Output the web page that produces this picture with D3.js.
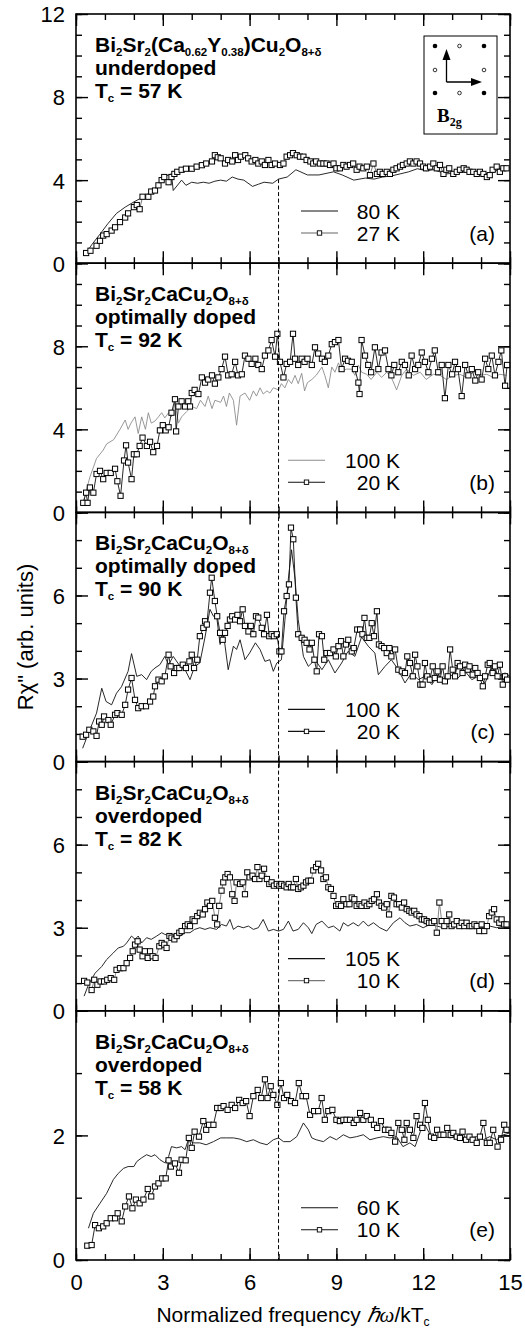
<!DOCTYPE html>
<html><head><meta charset="utf-8">
<script src="https://cdn.jsdelivr.net/npm/d3@7"></script>
<style>body{margin:0;background:#fff}svg{display:block}</style>
</head><body><svg id="chart" width="525" height="1330"></svg>
<script>
// ---------- data ----------
const xTicks = [0, 3, 6, 9, 12, 15];
const panelLetters = ['(a)', '(b)', '(c)', '(d)', '(e)'];
const yMaxes = [12, 12, 9, 9, 4];
const yMajorSteps = [4, 4, 3, 3, 2];
const hiLabels = ['80 K', '100 K', '100 K', '105 K', '60 K'];
const loLabels = ['27 K', '20 K', '20 K', '10 K', '10 K'];
const dopings = ['underdoped', 'optimally doped', 'optimally doped', 'overdoped', 'overdoped'];
const tcValues = ['57 K', '92 K', '90 K', '82 K', '58 K'];
const compoundY = [['Bi', ''], ['2', 's'], ['Sr', ''], ['2', 's'], ['(Ca', ''], ['0.62', 's'], ['Y', ''], ['0.38', 's'], [')Cu', ''], ['2', 's'], ['O', ''], ['8+δ', 's']];
const compoundBi = [['Bi', ''], ['2', 's'], ['Sr', ''], ['2', 's'], ['CaCu', ''], ['2', 's'], ['O', ''], ['8+δ', 's']];

const hiA = [[0.31,0.4],[0.55,0.9],[0.83,1.4],[1.1,1.9],[1.4,2.4],[1.7,2.7],[2.0,2.95],[2.2,3.1],[2.5,3.35],[2.8,3.7],[3.0,4.15],[3.3,4.3],[3.36,3.5],[3.65,4.0],[3.8,3.75],[4.0,3.9],[4.2,3.85],[4.4,3.9],[4.6,3.85],[4.8,3.95],[5.0,4.0],[5.2,3.95],[5.4,4.15],[5.6,4.05],[5.8,4.0],[6.1,3.7],[6.3,3.8],[6.5,3.9],[6.8,3.85],[7.0,4.05],[7.3,4.15],[7.6,4.5],[8.0,4.25],[8.4,4.25],[8.9,4.4],[9.2,4.25],[9.6,4.0],[10.0,4.1],[10.3,4.05],[10.6,4.15],[10.9,4.2],[11.2,4.3],[11.5,4.4],[11.8,4.55],[12.1,4.45],[12.35,4.5],[12.8,4.3],[13.2,4.35],[13.5,4.4],[14.1,4.3],[14.4,4.35],[14.65,4.55],[15,4.6]];
const loA = [[0.35,0.49],[0.5,0.6],[0.71,0.84],[0.83,1.08],[0.94,1.33],[1.06,1.4],[1.23,1.57],[1.35,1.73],[1.52,1.98],[1.7,2.2],[1.8,2.4],[2.0,2.7],[2.1,2.8],[2.2,2.6],[2.3,3.2],[2.5,3.2],[2.6,3.45],[2.73,3.5],[2.85,3.75],[2.96,4.0],[3.05,4.15],[3.2,3.9],[3.3,4.15],[3.4,4.3],[3.5,4.4],[3.65,4.5],[3.8,4.55],[4.0,4.55],[4.17,4.65],[4.35,4.72],[4.5,4.8],[4.7,4.9],[4.8,5.2],[4.9,5.1],[5.0,5.05],[5.15,4.8],[5.26,4.97],[5.4,4.9],[5.5,5.2],[5.6,4.97],[5.7,5.13],[5.85,5.2],[5.95,5.05],[6.07,4.9],[6.2,4.97],[6.3,4.8],[6.42,4.9],[6.53,4.73],[6.65,4.97],[6.76,4.73],[6.88,4.8],[7.05,4.73],[7.17,4.8],[7.28,5.13],[7.4,5.2],[7.5,5.3],[7.63,5.2],[7.74,5.13],[7.86,5.13],[7.97,4.97],[8.1,4.9],[8.2,4.8],[8.3,4.9],[8.43,4.8],[8.55,4.8],[8.66,4.8],[8.78,4.73],[8.9,4.8],[9.0,4.57],[9.12,4.57],[9.24,4.73],[9.35,4.65],[9.47,4.73],[9.58,4.8],[9.7,4.5],[9.8,4.65],[9.93,4.57],[10.05,4.65],[10.16,4.24],[10.28,4.8],[10.4,4.3],[10.5,4.4],[10.6,4.3],[10.74,4.4],[10.85,4.3],[10.97,4.5],[11.08,4.57],[11.2,4.65],[11.3,4.73],[11.43,4.8],[11.54,4.9],[11.66,4.8],[11.77,4.9],[11.89,4.8],[12.0,4.65],[12.1,4.57],[12.24,4.65],[12.35,4.8],[12.47,4.57],[12.58,4.73],[12.7,4.3],[12.8,4.5],[12.9,4.57],[13.04,4.3],[13.16,4.4],[13.27,4.5],[13.4,4.57],[13.5,4.5],[13.6,4.4],[13.73,4.4],[13.85,4.3],[13.96,4.4],[14.08,4.3],[14.2,4.15],[14.3,4.24],[14.4,4.5],[14.54,4.65],[14.65,4.4],[14.77,4.57],[14.88,4.57]];

const hiB = [[0.25,0.5],[0.48,1.7],[0.71,2.6],[0.94,3.0],[1.06,3.3],[1.3,3.5],[1.52,4.0],[1.7,4.45],[1.8,4.0],[1.9,4.3],[2.04,4.6],[2.15,3.8],[2.27,4.6],[2.4,4.0],[2.5,4.8],[2.6,4.3],[2.73,4.4],[2.85,4.6],[2.96,4.8],[3.07,4.55],[3.2,4.8],[3.3,4.6],[3.42,5.3],[3.54,4.3],[3.65,4.6],[3.82,4.85],[4.0,5.1],[4.17,5.0],[4.3,5.4],[4.46,5.1],[4.57,5.6],[4.7,5.0],[4.8,5.4],[5.0,5.3],[5.1,5.6],[5.2,5.1],[5.3,5.75],[5.44,5.4],[5.55,4.2],[5.67,5.6],[5.84,5.75],[6.0,5.4],[6.13,5.85],[6.24,5.6],[6.36,6.0],[6.47,5.7],[6.6,5.85],[6.7,5.75],[6.82,6.0],[7.0,5.9],[7.1,6.2],[7.22,6.0],[7.34,6.4],[7.45,6.2],[7.57,6.6],[7.68,6.2],[7.8,6.7],[7.9,5.85],[8.0,6.25],[8.15,6.4],[8.3,6.6],[8.5,7.0],[8.6,6.6],[8.72,6.0],[8.84,7.0],[8.95,6.75],[9.07,7.2],[9.18,6.8],[9.35,6.9],[9.53,6.9],[9.64,6.6],[9.76,7.1],[9.87,6.75],[10.05,6.65],[10.2,6.4],[10.4,6.75],[10.56,6.5],[10.74,6.75],[10.9,6.5],[11.08,5.9],[11.26,6.6],[11.43,6.9],[11.66,6.6],[11.9,6.75],[12.1,6.4],[12.35,6.65],[12.58,6.6],[12.8,6.4],[13.04,6.6],[13.27,6.65],[13.5,6.5],[13.73,6.75],[13.96,6.6],[14.2,6.65],[14.42,6.5],[14.65,6.65],[14.88,6.6]];
const loB = [[0.25,0.46],[0.35,0.95],[0.4,0.46],[0.48,1.2],[0.6,0.95],[0.71,1.85],[0.83,2.0],[0.94,1.6],[1.06,1.9],[1.2,1.9],[1.35,2.1],[1.43,1.5],[1.54,0.8],[1.66,2.5],[1.73,3.23],[1.8,2.4],[1.92,1.6],[2.0,2.8],[2.1,2.8],[2.2,3.2],[2.3,3.6],[2.45,3.2],[2.56,3.4],[2.67,2.9],[2.8,3.2],[2.9,3.95],[3.0,4.2],[3.1,3.95],[3.2,4.1],[3.3,4.8],[3.42,5.45],[3.46,3.9],[3.54,5.1],[3.65,5.35],[3.77,5.1],[3.88,5.35],[3.94,5.1],[4.0,5.75],[4.1,5.9],[4.23,5.7],[4.35,6.5],[4.46,6.25],[4.57,6.4],[4.7,6.6],[4.8,6.2],[4.92,6.5],[5.03,6.9],[5.15,7.5],[5.26,6.6],[5.38,6.65],[5.5,7.25],[5.6,6.6],[5.73,6.65],[5.84,7.55],[5.96,7.4],[6.07,7.15],[6.2,7.4],[6.3,7.1],[6.42,6.9],[6.53,7.55],[6.65,7.8],[6.76,8.3],[6.88,7.5],[6.96,8.6],[7.05,7.25],[7.17,6.5],[7.28,7.15],[7.4,7.25],[7.5,8.6],[7.57,7.4],[7.68,7.1],[7.8,7.4],[7.9,7.25],[8.0,7.4],[8.15,7.1],[8.26,7.95],[8.37,7.65],[8.5,7.4],[8.6,7.25],[8.72,7.55],[8.84,8.1],[8.95,8.2],[9.07,8.3],[9.18,6.9],[9.3,7.4],[9.4,7.3],[9.53,7.25],[9.64,6.9],[9.76,6.25],[9.8,5.7],[9.87,8.3],[9.99,7.55],[10.1,7.1],[10.2,6.75],[10.33,7.95],[10.45,6.9],[10.56,7.7],[10.68,7.8],[10.8,6.9],[10.9,6.6],[11.0,7.1],[11.14,6.75],[11.26,7.25],[11.37,7.1],[11.5,6.6],[11.6,7.55],[11.72,6.9],[11.83,7.1],[11.95,7.7],[12.06,7.25],[12.18,6.75],[12.3,7.4],[12.4,7.8],[12.52,6.75],[12.64,7.1],[12.75,5.5],[12.87,7.1],[13.0,6.65],[13.1,7.25],[13.2,6.9],[13.33,5.6],[13.45,7.1],[13.56,6.6],[13.68,6.9],[13.8,6.35],[13.9,6.75],[14.02,6.4],[14.14,7.4],[14.25,6.9],[14.37,7.55],[14.48,6.6],[14.6,7.25],[14.7,7.8],[14.83,6.1],[14.9,7.1]];

const hiC = [[0.23,0.48],[0.43,1.03],[0.71,1.75],[0.89,2.65],[1.04,2.17],[1.23,2.05],[1.4,2.47],[1.57,2.7],[1.8,3.26],[1.92,3.9],[2.1,3.08],[2.27,3.14],[2.44,2.96],[2.6,3.26],[2.73,3.38],[2.9,3.5],[3.07,3.8],[3.2,3.5],[3.36,3.8],[3.6,3.44],[3.77,3.32],[3.94,2.96],[4.1,3.44],[4.28,3.56],[4.46,4.5],[4.63,5.5],[4.75,5.25],[4.86,5.25],[4.98,4.23],[5.1,4.6],[5.26,3.32],[5.44,4.17],[5.55,4.05],[5.67,4.4],[5.84,3.68],[6.0,3.92],[6.2,4.29],[6.36,4.05],[6.53,3.62],[6.7,3.68],[6.82,3.26],[6.94,3.56],[7.1,3.68],[7.22,5.1],[7.34,6.6],[7.45,7.65],[7.57,6.6],[7.68,5.13],[7.86,3.8],[8.03,3.44],[8.26,3.68],[8.5,3.32],[8.72,3.68],[8.95,3.2],[9.18,3.56],[9.4,3.98],[9.64,3.8],[9.87,4.5],[10.1,4.17],[10.33,3.92],[10.45,3.14],[10.68,3.44],[10.9,3.68],[11.14,3.32],[11.37,2.84],[11.6,3.2],[11.83,2.96],[12.06,3.08],[12.3,2.78],[12.52,3.14],[12.75,2.84],[13.0,3.14],[13.2,3.02],[13.45,3.26],[13.68,2.96],[13.9,3.08],[14.14,2.84],[14.37,3.44],[14.6,3.08],[14.83,3.2],[15,3.08]];
const loC = [[0.23,0.9],[0.35,0.97],[0.46,1.15],[0.6,1.09],[0.71,0.93],[0.8,1.45],[0.89,1.33],[0.97,1.63],[1.12,1.5],[1.2,1.33],[1.35,1.69],[1.43,1.75],[1.58,1.69],[1.7,2.05],[1.8,2.6],[1.92,3.02],[2.04,2.23],[2.15,1.93],[2.27,2.0],[2.42,2.0],[2.56,2.17],[2.67,2.35],[2.73,2.72],[2.85,2.96],[2.96,2.9],[3.07,3.08],[3.2,3.86],[3.27,3.44],[3.39,3.2],[3.48,3.38],[3.57,3.38],[3.69,3.5],[3.8,3.38],[3.92,3.62],[4.0,3.86],[4.08,3.38],[4.19,3.68],[4.28,4.53],[4.4,4.83],[4.46,5.07],[4.52,4.95],[4.63,6.1],[4.69,6.64],[4.8,5.8],[4.88,5.25],[4.98,4.65],[5.07,4.4],[5.15,4.65],[5.24,4.9],[5.32,5.13],[5.4,5.25],[5.5,5.13],[5.58,5.3],[5.67,5.07],[5.76,5.5],[5.84,4.9],[5.96,4.7],[6.04,4.9],[6.13,4.6],[6.22,5.25],[6.3,5.2],[6.42,4.83],[6.5,4.6],[6.6,5.3],[6.68,4.53],[6.76,4.6],[6.84,4.53],[6.94,4.6],[7.03,3.98],[7.1,3.98],[7.19,5.43],[7.28,5.98],[7.36,6.4],[7.43,8.45],[7.51,8.03],[7.6,5.92],[7.68,4.6],[7.8,4.47],[7.9,4.4],[7.97,4.29],[8.07,4.05],[8.15,4.29],[8.24,3.68],[8.32,3.26],[8.4,4.6],[8.5,4.53],[8.58,3.68],[8.66,3.92],[8.78,3.92],[8.9,4.05],[8.98,3.8],[9.07,4.17],[9.16,4.35],[9.24,3.8],[9.33,4.23],[9.41,4.4],[9.53,3.98],[9.6,4.1],[9.72,4.77],[9.82,4.77],[9.9,4.6],[9.97,5.19],[10.05,4.47],[10.14,4.47],[10.22,5.0],[10.3,4.53],[10.4,5.43],[10.47,4.23],[10.56,4.17],[10.65,4.1],[10.74,3.92],[10.83,4.1],[10.9,3.8],[11.03,4.05],[11.14,3.32],[11.26,3.26],[11.37,3.2],[11.45,3.8],[11.54,3.56],[11.64,3.08],[11.72,3.86],[11.8,3.44],[11.9,2.78],[11.98,2.78],[12.06,3.56],[12.14,3.08],[12.23,2.96],[12.33,3.44],[12.4,3.02],[12.5,3.26],[12.58,2.96],[12.67,3.44],[12.75,2.9],[12.85,3.08],[12.93,4.05],[13.02,3.32],[13.1,3.08],[13.19,3.56],[13.27,3.44],[13.36,3.2],[13.45,3.5],[13.54,3.32],[13.6,3.44],[13.71,3.14],[13.8,3.38],[13.88,3.2],[13.96,3.02],[14.06,2.72],[14.14,3.08],[14.23,3.5],[14.3,3.56],[14.4,3.2],[14.48,3.44],[14.57,3.08],[14.65,3.5],[14.75,2.78],[14.83,3.08],[14.9,2.96]];

const hiD = [[0.28,0.53],[0.43,0.94],[0.66,1.36],[0.89,1.6],[1.06,1.85],[1.29,2.09],[1.46,2.27],[1.64,2.33],[1.75,2.45],[1.92,2.7],[2.04,2.58],[2.15,2.7],[2.27,2.45],[2.44,2.64],[2.6,2.58],[2.79,2.7],[2.96,2.82],[3.07,2.76],[3.25,2.7],[3.42,2.76],[3.6,2.7],[3.77,2.82],[3.94,2.82],[4.1,2.94],[4.28,3.0],[4.46,2.94],[4.63,3.0],[4.86,2.94],[5.03,3.12],[5.2,3.06],[5.32,3.3],[5.44,2.94],[5.6,3.06],[5.78,3.0],[5.96,3.06],[6.13,2.94],[6.3,3.0],[6.47,3.3],[6.65,2.88],[6.82,2.94],[7.0,2.88],[7.17,2.94],[7.34,3.24],[7.5,2.88],[7.68,2.94],[7.86,3.18],[8.03,3.0],[8.15,2.79],[8.3,3.12],[8.5,3.24],[8.72,3.0],[8.9,3.06],[9.12,2.88],[9.24,3.18],[9.4,3.06],[9.58,3.18],[9.76,3.06],[9.93,3.24],[10.1,3.06],[10.28,3.18],[10.5,3.0],[10.74,2.88],[10.97,3.18],[11.2,3.36],[11.37,3.18],[11.54,3.06],[11.77,3.12],[12.0,3.0],[12.24,3.12],[12.47,3.06],[12.7,3.0],[12.93,3.06],[13.16,3.18],[13.4,3.06],[13.64,3.0],[13.85,3.06],[14.08,3.0],[14.3,3.06],[14.54,3.0],[14.77,3.06],[15,3.06]];
const loD = [[0.28,1.08],[0.39,1.02],[0.54,0.75],[0.63,1.12],[0.74,0.94],[0.85,1.06],[0.97,1.06],[1.08,1.12],[1.2,1.18],[1.32,1.12],[1.4,1.48],[1.52,1.54],[1.64,1.54],[1.75,1.72],[1.87,1.91],[1.96,2.15],[2.04,2.39],[2.13,2.51],[2.2,2.21],[2.3,1.97],[2.38,2.15],[2.48,1.91],[2.56,2.15],[2.65,1.97],[2.75,1.91],[2.88,2.33],[2.96,2.45],[3.05,2.39],[3.13,2.27],[3.23,2.7],[3.3,2.64],[3.4,2.58],[3.48,2.7],[3.57,2.82],[3.65,2.88],[3.77,3.06],[3.86,3.12],[3.94,3.06],[4.03,3.3],[4.1,3.24],[4.19,3.42],[4.28,3.54],[4.38,3.48],[4.46,3.67],[4.54,3.91],[4.63,3.79],[4.71,3.97],[4.8,3.36],[4.88,3.12],[4.95,3.79],[5.03,4.34],[5.09,4.64],[5.16,4.82],[5.24,4.94],[5.32,4.82],[5.4,4.21],[5.48,3.97],[5.55,4.64],[5.67,4.58],[5.76,4.64],[5.84,4.21],[5.92,5.0],[6.0,4.82],[6.1,4.88],[6.19,4.76],[6.27,5.19],[6.34,4.76],[6.42,4.88],[6.5,5.13],[6.6,4.76],[6.68,4.58],[6.76,4.64],[6.84,4.52],[6.94,4.58],[7.03,4.52],[7.1,4.58],[7.19,4.52],[7.28,4.46],[7.35,4.58],[7.43,4.46],[7.51,4.46],[7.6,4.76],[7.68,4.4],[7.77,4.46],[7.86,4.52],[7.95,4.64],[8.03,4.7],[8.12,4.7],[8.2,5.07],[8.3,5.19],[8.37,5.31],[8.47,5.07],[8.55,4.76],[8.64,4.82],[8.72,4.46],[8.81,4.4],[8.9,4.15],[8.99,3.79],[9.07,3.85],[9.16,3.79],[9.24,4.03],[9.35,3.85],[9.45,3.85],[9.53,4.09],[9.62,4.03],[9.7,3.79],[9.8,3.85],[9.87,3.79],[9.97,3.91],[10.05,3.79],[10.14,3.85],[10.22,3.97],[10.3,4.03],[10.4,4.21],[10.47,3.91],[10.56,3.79],[10.65,3.73],[10.74,3.85],[10.82,3.48],[10.9,4.15],[10.99,4.09],[11.08,3.85],[11.17,3.85],[11.26,3.73],[11.34,3.91],[11.43,3.67],[11.52,3.61],[11.6,3.55],[11.69,3.61],[11.77,3.48],[11.87,3.42],[11.95,3.3],[12.03,3.3],[12.12,3.24],[12.2,3.18],[12.29,3.18],[12.38,3.24],[12.47,2.82],[12.56,3.91],[12.64,3.24],[12.73,3.06],[12.81,3.24],[12.9,3.48],[12.98,3.06],[13.07,3.12],[13.16,3.24],[13.25,3.06],[13.33,3.18],[13.42,3.06],[13.5,3.18],[13.6,3.06],[13.68,3.06],[13.77,3.12],[13.85,3.06],[13.94,2.88],[14.02,3.12],[14.11,2.88],[14.2,3.06],[14.28,3.42],[14.37,3.55],[14.45,3.67],[14.54,3.3],[14.63,3.18],[14.71,3.3],[14.8,3.12],[14.88,3.12]];

const hiE = [[0.43,0.51],[0.6,0.75],[0.83,0.91],[1.06,1.07],[1.29,1.29],[1.46,1.39],[1.64,1.47],[1.8,1.5],[2.0,1.5],[2.1,1.58],[2.27,1.64],[2.44,1.69],[2.6,1.66],[2.73,1.69],[2.9,1.61],[3.07,1.56],[3.2,1.66],[3.3,1.82],[3.48,1.8],[3.65,1.82],[3.77,1.77],[3.88,1.93],[4.05,1.88],[4.28,1.88],[4.5,1.85],[4.75,1.9],[5.0,1.96],[5.2,1.96],[5.44,1.96],[5.67,1.94],[5.9,1.9],[6.13,1.93],[6.36,1.88],[6.6,1.85],[6.82,1.93],[7.0,1.96],[7.17,1.9],[7.4,1.9],[7.63,1.98],[7.86,2.2],[8.03,2.09],[8.15,1.96],[8.3,1.93],[8.55,1.9],[8.78,1.98],[9.0,1.93],[9.24,2.01],[9.47,1.96],[9.7,1.98],[9.93,2.01],[10.16,1.93],[10.4,1.96],[10.62,1.98],[10.85,1.96],[11.08,1.98],[11.3,1.82],[11.54,1.88],[11.72,1.82],[11.9,2.06],[12.06,2.17],[12.24,2.01],[12.47,1.96],[12.7,1.98],[12.93,1.96],[13.16,1.98],[13.4,1.93],[13.6,1.96],[13.85,1.98],[14.08,1.93],[14.3,1.98],[14.54,1.93],[14.77,2.01],[15,2.04]];
const loE = [[0.39,0.23],[0.54,0.24],[0.66,0.56],[0.79,0.51],[0.94,0.54],[1.06,0.59],[1.2,0.67],[1.35,0.67],[1.44,0.75],[1.58,0.62],[1.7,0.86],[1.83,1.02],[1.95,0.83],[2.07,0.97],[2.2,0.91],[2.33,0.97],[2.48,1.14],[2.6,1.02],[2.73,1.18],[2.85,1.23],[2.98,1.31],[3.1,1.31],[3.2,1.6],[3.28,1.5],[3.42,1.55],[3.56,1.4],[3.65,1.61],[3.79,1.6],[3.9,1.96],[4.0,1.8],[4.1,2.06],[4.25,1.98],[4.4,2.23],[4.5,2.09],[4.6,2.17],[4.75,2.17],[4.88,2.44],[5.0,2.44],[5.1,2.47],[5.24,2.41],[5.38,2.49],[5.5,2.44],[5.64,2.57],[5.76,2.52],[5.88,2.55],[6.0,2.31],[6.13,2.63],[6.28,2.73],[6.4,2.6],[6.53,2.9],[6.62,2.6],[6.73,2.79],[6.82,2.65],[6.96,2.49],[7.08,2.84],[7.19,2.6],[7.3,2.65],[7.43,2.55],[7.57,2.52],[7.7,2.84],[7.83,2.63],[7.95,2.63],[8.09,2.33],[8.23,2.39],[8.37,2.39],[8.49,2.6],[8.6,2.25],[8.72,2.39],[8.86,2.41],[9.0,2.25],[9.12,2.23],[9.24,2.25],[9.35,2.25],[9.47,2.25],[9.6,2.2],[9.7,2.25],[9.82,2.36],[9.93,2.25],[10.05,2.31],[10.19,2.25],[10.3,2.17],[10.41,2.12],[10.54,2.23],[10.68,2.09],[10.8,2.09],[10.9,2.04],[11.03,1.9],[11.14,2.2],[11.26,2.09],[11.35,1.93],[11.43,2.2],[11.54,2.09],[11.66,1.96],[11.77,2.31],[11.89,2.17],[11.97,2.12],[12.06,2.52],[12.16,2.25],[12.27,1.98],[12.38,1.96],[12.48,2.09],[12.6,2.01],[12.7,2.01],[12.83,2.12],[12.95,2.01],[13.04,2.04],[13.16,1.98],[13.27,1.96],[13.36,2.06],[13.48,1.93],[13.6,1.98],[13.71,1.93],[13.85,1.88],[13.96,1.98],[14.08,2.2],[14.2,1.88],[14.3,1.88],[14.42,2.09],[14.57,1.82],[14.69,1.93],[14.8,2.17],[14.88,2.09]];

const hiSeries = [hiA, hiB, hiC, hiD, hiE];
const loSeries = [loA, loB, loC, loD, loE];

// ---------- layout ----------
const FONT = "'Liberation Sans', Arial, Helvetica, sans-serif";
const SERIF = "'Liberation Serif', 'Times New Roman', serif";
const L = 76, R = 510, TOP = 14, BOTTOM = 1260;
const PH = (BOTTOM - TOP) / 5;
const hiColors = ['#111', '#8c8c8c', '#111', '#111', '#111'];
const loColors = ['#666', '#111', '#111', '#777', '#111'];
const legendX1 = [301, 288, 288, 288, 301];
const legendX2 = [338, 325, 325, 325, 338];

const svg = d3.select('#chart');
const x = d3.scaleLinear().domain([0, 15]).range([L, R]);
const xMinor = d3.range(0, 16, 1);

panelLetters.forEach((letter, i) => {
  const top = TOP + i * PH, bot = top + PH;
  const y = d3.scaleLinear().domain([0, yMaxes[i]]).range([bot, top]);
  const g = svg.append('g');
  const yMinor = d3.range(0, yMaxes[i] + 0.001, 1);
  const yMajor = d3.range(0, yMaxes[i] + 0.001, yMajorSteps[i]);
  const yLab = i === 0 ? yMajor : yMajor.filter(v => v < yMaxes[i]);

  const style = sel => { sel.select('.domain').remove(); sel.selectAll('line').attr('stroke', '#000').attr('stroke-width', 1.4); };
  g.append('g').attr('transform', `translate(0,${bot})`).call(d3.axisBottom(x).tickValues(xMinor).tickSize(-6).tickFormat('')).call(style);
  g.append('g').attr('transform', `translate(0,${bot})`).call(d3.axisBottom(x).tickValues(xTicks).tickSize(-12).tickFormat('')).call(style);
  g.append('g').attr('transform', `translate(0,${top})`).call(d3.axisTop(x).tickValues(xMinor).tickSize(-6).tickFormat('')).call(style);
  g.append('g').attr('transform', `translate(0,${top})`).call(d3.axisTop(x).tickValues(xTicks).tickSize(-12).tickFormat('')).call(style);
  g.append('g').attr('transform', `translate(${L},0)`).call(d3.axisLeft(y).tickValues(yMinor).tickSize(-6).tickFormat('')).call(style);
  g.append('g').attr('transform', `translate(${L},0)`).call(d3.axisLeft(y).tickValues(yMajor).tickSize(-12).tickFormat('')).call(style);
  g.append('g').attr('transform', `translate(${R},0)`).call(d3.axisRight(y).tickValues(yMinor).tickSize(-6).tickFormat('')).call(style);
  g.append('g').attr('transform', `translate(${R},0)`).call(d3.axisRight(y).tickValues(yMajor).tickSize(-12).tickFormat('')).call(style);
  const yl = g.append('g').attr('transform', `translate(${L},0)`)
    .call(d3.axisLeft(y).tickValues(yLab).tickSize(0).tickPadding(11).tickFormat(d3.format('d')));
  yl.select('.domain').remove();
  yl.selectAll('text').attr('font-family', FONT).attr('font-size', 22).attr('fill', '#000').attr('dy', '0.36em');

  g.append('rect').attr('x', L).attr('y', top).attr('width', R - L).attr('height', PH)
    .attr('fill', 'none').attr('stroke', '#000').attr('stroke-width', 1.6);

  const line = d3.line().x(d => x(d[0])).y(d => y(d[1]));
  g.append('path').datum(hiSeries[i]).attr('d', line).attr('fill', 'none')
    .attr('stroke', hiColors[i]).attr('stroke-width', 0.9).attr('stroke-linejoin', 'round');
  g.append('path').datum(loSeries[i]).attr('d', line).attr('fill', 'none')
    .attr('stroke', loColors[i]).attr('stroke-width', 0.9).attr('stroke-linejoin', 'round');
  g.append('g').selectAll('rect').data(loSeries[i]).join('rect')
    .attr('x', d => x(d[0]) - 2.6).attr('y', d => y(d[1]) - 2.6).attr('width', 5.2).attr('height', 5.2)
    .attr('fill', '#fff').attr('stroke', '#000').attr('stroke-width', 1);

  // annotation
  const txt = g.append('text').attr('font-family', FONT).attr('font-weight', 'bold').attr('font-size', 21).attr('fill', '#000');
  const comp = i === 0 ? compoundY : compoundBi;
  const l1 = txt.append('tspan').attr('x', 95).attr('y', top + 38);
  let shifted = false;
  comp.forEach(([s, k]) => {
    if (k === 's') { l1.append('tspan').attr('font-size', 11.5).attr('dy', shifted ? 0 : 4).text(s); shifted = true; }
    else { l1.append('tspan').attr('dy', shifted ? -4 : 0).text(s); shifted = false; }
  });
  txt.append('tspan').attr('x', 95).attr('y', top + 61).text(dopings[i]);
  const l3 = txt.append('tspan').attr('x', 95).attr('y', top + 84);
  l3.append('tspan').text('T');
  l3.append('tspan').attr('font-size', 11.5).attr('dy', 4).text('c');
  l3.append('tspan').attr('dy', -4).text(' = ' + tcValues[i]);

  // legend
  const r1 = top + 197, r2 = top + 219;
  g.append('line').attr('x1', legendX1[i]).attr('x2', legendX2[i]).attr('y1', r1).attr('y2', r1)
    .attr('stroke', hiColors[i]).attr('stroke-width', 1.1);
  g.append('line').attr('x1', legendX1[i]).attr('x2', legendX2[i]).attr('y1', r2).attr('y2', r2)
    .attr('stroke', loColors[i]).attr('stroke-width', 1.1);
  const mx = (legendX1[i] + legendX2[i]) / 2;
  g.append('rect').attr('x', mx - 2.2).attr('y', r2 - 2.2).attr('width', 4.4).attr('height', 4.4)
    .attr('fill', '#fff').attr('stroke', '#000').attr('stroke-width', 0.9);
  const lg = g.append('g').attr('font-family', FONT).attr('font-size', 21).attr('fill', '#000').attr('text-anchor', 'end');
  lg.append('text').attr('x', 400).attr('y', r1 + 7.5).text(hiLabels[i]);
  lg.append('text').attr('x', 400).attr('y', r2 + 7.5).text(loLabels[i]);
  lg.append('text').attr('x', 495).attr('y', r2 + 7.5).text(letter);
});

// x tick labels
const xl = svg.append('g').attr('transform', `translate(0,${BOTTOM})`)
  .call(d3.axisBottom(x).tickValues(xTicks).tickSize(0).tickPadding(14).tickFormat(d3.format('d')));
xl.select('.domain').remove();
xl.selectAll('text').attr('font-family', FONT).attr('font-size', 22).attr('fill', '#000');

// dashed line at x = 7
const yA = d3.scaleLinear().domain([0, 12]).range([TOP + PH, TOP]);
svg.append('line').attr('x1', x(7)).attr('x2', x(7)).attr('y1', yA(4.05)).attr('y2', BOTTOM)
  .attr('stroke', '#000').attr('stroke-width', 1).attr('stroke-dasharray', '4,2.5');

// axis titles
const xt = svg.append('text').attr('x', (L + R) / 2).attr('y', 1322).attr('text-anchor', 'middle')
  .attr('font-family', FONT).attr('font-size', 21).attr('fill', '#000');
xt.append('tspan').text('Normalized frequency ');
xt.append('tspan').attr('font-family', SERIF).attr('font-style', 'italic').text('ℏω');
xt.append('tspan').text('/kT');
xt.append('tspan').attr('font-size', 12).attr('dy', 4).text('c');

svg.append('text').attr('transform', `translate(33,${(TOP + BOTTOM) / 2}) rotate(-90)`).attr('text-anchor', 'middle')
  .attr('font-family', FONT).attr('font-size', 22).attr('fill', '#000').text('Rχ" (arb. units)');

// inset
const inset = svg.append('g');
inset.append('rect').attr('x', 424).attr('y', 36).attr('width', 73).attr('height', 98)
  .attr('fill', '#fff').attr('stroke', '#000').attr('stroke-width', 1);
const filled = [[435, 46], [484, 46], [435, 93], [484, 93]];
const hollow = [[459.5, 46], [435, 70], [484, 70], [459.5, 93]];
inset.selectAll('.f').data(filled).join('circle').attr('cx', d => d[0]).attr('cy', d => d[1]).attr('r', 2.3).attr('fill', '#000');
inset.selectAll('.h').data(hollow).join('circle').attr('cx', d => d[0]).attr('cy', d => d[1]).attr('r', 1.8)
  .attr('fill', '#fff').attr('stroke', '#000').attr('stroke-width', 0.8);
inset.append('path').attr('d', 'M446.5,82 V58 M446.5,82 H473').attr('stroke', '#000').attr('stroke-width', 1.3).attr('fill', 'none');
inset.append('path').attr('d', 'M446.5,49 L442.5,60 L450.5,60 Z M482,82 L471,78 L471,86 Z').attr('fill', '#000');
const bt = inset.append('text').attr('x', 437).attr('y', 122).attr('font-family', SERIF)
  .attr('font-weight', 'bold').attr('font-size', 19).attr('fill', '#000');
bt.append('tspan').text('B');
bt.append('tspan').attr('font-size', 12).attr('dy', 4).text('2g');
</script></body></html>
